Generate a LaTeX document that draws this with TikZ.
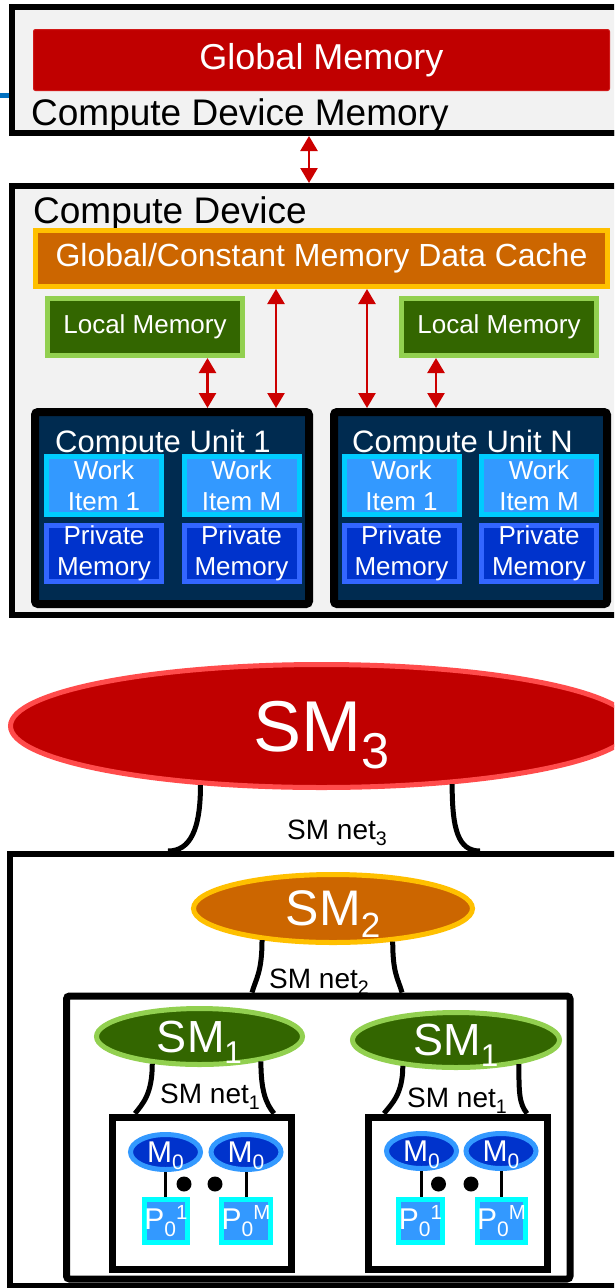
\documentclass[tikz,border=0pt]{standalone}
\usepackage{fontspec}
\setmainfont{Liberation Sans}
\usepackage{graphicx}
\usetikzlibrary{arrows.meta,shapes.geometric}

\definecolor{panelgray}{HTML}{F2F2F2}
\definecolor{gmred}{HTML}{C00000}
\definecolor{gmedge}{HTML}{D01818}
\definecolor{linkred}{HTML}{CC0000}
\definecolor{cacheorange}{HTML}{CC6600}
\definecolor{cacheedge}{HTML}{FFC000}
\definecolor{localgreen}{HTML}{336600}
\definecolor{localedge}{HTML}{92D050}
\definecolor{cunavy}{HTML}{002B50}
\definecolor{itemblue}{HTML}{3399FF}
\definecolor{itemedge}{HTML}{00CCFF}
\definecolor{privblue}{HTML}{0033CC}
\definecolor{privedge}{HTML}{3366FF}
\definecolor{smthreeedge}{HTML}{FF4B4B}
\definecolor{pcyan}{HTML}{00FFFF}
\definecolor{sidebar}{HTML}{0070C0}

\newcommand{\fsz}[1]{\fontsize{#1}{#1}\selectfont}
\newcommand{\lowsub}[1]{\raisebox{-.24em}{\scalebox{.7}{#1}}}
\newcommand{\highsup}[1]{\raisebox{.34em}{\scalebox{.68}{#1}}}

\tikzset{
  frame/.style={draw=black, line width=6pt, inner sep=0pt},
  memlink/.style={draw=linkred, line width=2.5pt, arrows={Triangle[width=17pt,length=15pt]-Triangle[width=17pt,length=15pt]}},
  membox/.style={rectangle, line width=5pt, inner sep=0pt, text=white, align=center},
  item/.style={membox, fill=itemblue, draw=itemedge, minimum width=115pt, minimum height=58pt, font=\fontsize{26}{31}\selectfont},
  private/.style={membox, fill=privblue, draw=privedge, minimum width=115pt, minimum height=56pt, font=\fontsize{26}{31}\selectfont},
  cutitle/.style={anchor=base west, inner sep=0pt, text=white, font=\fsz{31}},
  smnode/.style={ellipse, line width=5pt, inner sep=0pt, text=white, text depth=0pt},
  smnet/.style={draw=black, line width=5pt},
  netlabel/.style={anchor=base west, inner sep=0pt, font=\fsz{28}},
  mnode/.style={smnode, fill=privblue, draw=itemblue, minimum width=70pt, minimum height=35pt, font=\fsz{30}},
  pnode/.style={membox, fill=itemblue, draw=pcyan, minimum width=43pt, minimum height=43pt, font=\fsz{30}},
}

\begin{document}
\begin{tikzpicture}[x=1pt, y=-1pt]
  %%%%% START %%%%%
  \useasboundingbox (0,0) rectangle (614,1288);
  \clip (0,0) rectangle (614,1288);
  \fill[white] (0,0) rectangle (614,1288);

  % device memory
  \draw[line width=5pt, sidebar] (0,95) -- (10,95);
  \node[frame, fill=panelgray, minimum width=638pt, minimum height=126pt] (devmem) at (331,70) {};
  \node[membox, rounded corners=2pt, fill=gmred, draw=gmedge, line width=1pt, minimum width=576pt, minimum height=61pt, font=\fsz{36}] (gm) at (321.5,60) {Global Memory};
  \node[anchor=base west, inner sep=0pt, font=\fsz{37}] (devmemlabel) at (31,125) {Compute Device Memory};
  \draw[line width=6pt] ([yshift=3pt]devmem.south west) -- ([yshift=3pt]devmem.south east);

  % device
  \node[frame, fill=panelgray, minimum width=638pt, minimum height=429pt] (dev) at (331,400.5) {};
  \node[anchor=base west, inner sep=0pt, font=\fsz{37}] (devlabel) at (33,223) {Compute Device};
  \draw[memlink] ([xshift=-22pt]devmem.south) -- ([xshift=-22pt]dev.north);

  \node[membox, fill=cacheorange, draw=cacheedge, minimum width=572pt, minimum height=56pt, font=\fsz{32}] (cache) at (321.5,258.5) {Global/Constant Memory Data Cache};
  \node[membox, fill=localgreen, draw=localedge, minimum width=195pt, minimum height=57pt, font=\fsz{26}] (lm1) at (145,327) {Local Memory};
  \node[membox, fill=localgreen, draw=localedge, minimum width=195pt, minimum height=57pt, font=\fsz{26}] (lmN) at (499,327) {Local Memory};

  % compute units
  \node[frame, line width=8pt, rounded corners=3pt, fill=cunavy, minimum width=274pt, minimum height=192pt] (cu1) at (172,508) {};
  \node[frame, line width=8pt, rounded corners=3pt, fill=cunavy, minimum width=273pt, minimum height=192pt] (cuN) at (470.5,508) {};
  \node[cutitle] (cu1label) at (55,452) {Compute Unit 1};
  \node[cutitle] (cuNlabel) at (352,452) {Compute Unit N};

  \node[item] (wi11) at (104,485.5) {Work\\Item 1};
  \node[item] (wi1M) at (241.5,485.5) {Work\\Item M};
  \node[item] (wiN1) at (401.5,485.5) {Work\\Item 1};
  \node[item] (wiNM) at (539,485.5) {Work\\Item M};
  \node[private] (pm11) at (104,553.5) {Private\\Memory};
  \node[private] (pm1M) at (241.5,553.5) {Private\\Memory};
  \node[private] (pmN1) at (401.5,553.5) {Private\\Memory};
  \node[private] (pmNM) at (539,553.5) {Private\\Memory};

  \draw[memlink] ([xshift=62.5pt]lm1.south) -- ([xshift=62.5pt]lm1.south |- cu1.north);
  \draw[memlink] ([xshift=-45.5pt]cache.south) -- ([xshift=-45.5pt]cache.south |- cu1.north);
  \draw[memlink] ([xshift=45.5pt]cache.south) -- ([xshift=45.5pt]cache.south |- cuN.north);
  \draw[memlink] ([xshift=-63pt]lmN.south) -- ([xshift=-63pt]lmN.south |- cuN.north);

  % shared memory levels
  \node[frame, minimum width=640pt, minimum height=431.5pt] (lvl2) at (330,1069.75) {};
  \node[smnode, fill=gmred, draw=smthreeedge, minimum width=622pt, minimum height=123pt, font=\fsz{72}] (sm3) at (321.5,726) {SM\lowsub{3}};
  \draw[smnet] (sm3.206) .. controls +(0,45) and +(22,0) .. ([xshift=161pt]lvl2.north west);
  \draw[smnet] (sm3.-24) .. controls +(0,45) and +(-22,0) .. ([xshift=473pt]lvl2.north west);
  \node[netlabel] (net3) at (287,839) {SM net\lowsub{3}};

  \node[smnode, fill=cacheorange, draw=cacheedge, minimum width=279pt, minimum height=68pt, font=\fsz{50}] (sm2) at (333,908.5) {SM\lowsub{2}};
  \node[netlabel] (net2) at (269,988) {SM net\lowsub{2}};
  \node[frame, line width=7pt, rounded corners=3pt, minimum width=503.5pt, minimum height=283pt] (lvl1) at (318.25,1137.5) {};
  \draw[smnet] (sm2.204) .. controls +(0,32) and +(4,-14) .. ([xshift=189pt]lvl1.north west);
  \draw[smnet] (sm2.-29) .. controls +(0,32) and +(-4,-14) .. ([xshift=339pt]lvl1.north west);

  \node[smnode, fill=localgreen, draw=localedge, minimum width=206pt, minimum height=56pt, font=\fsz{45}] (sm1a) at (199.5,1036.5) {SM\lowsub{1}};
  \node[smnode, fill=localgreen, draw=localedge, minimum width=207pt, minimum height=55pt, font=\fsz{45}] (sm1b) at (456,1040) {SM\lowsub{1}};
  \node[netlabel] (net1a) at (160,1103) {SM net\lowsub{1}};
  \node[netlabel] (net1b) at (407,1107) {SM net\lowsub{1}};
  \node[frame, line width=7pt, minimum width=178.5pt, minimum height=152pt] (lvl0a) at (201.75,1193) {};
  \node[frame, line width=7pt, minimum width=179pt, minimum height=152pt] (lvl0b) at (457.5,1193) {};
  \draw[smnet] (sm1a.210) .. controls +(0,30) and +(8,-10) .. ([xshift=26pt]lvl0a.north west);
  \draw[smnet] (sm1a.-22) .. controls +(0,30) and +(-8,-10) .. ([xshift=165pt]lvl0a.north west);
  \draw[smnet] (sm1b.206) .. controls +(0,28) and +(8,-10) .. ([xshift=19.5pt]lvl0b.north west);
  \draw[smnet] (sm1b.-21) .. controls +(0,28) and +(-8,-10) .. ([xshift=162.5pt]lvl0b.north west);

  % processors with their memories
  \node[mnode] (m0a) at (165.5,1152) {M\lowsub{0}};
  \node[mnode] (m0b) at (246,1152) {M\lowsub{0}};
  \node[mnode] (m0c) at (421.5,1151) {M\lowsub{0}};
  \node[mnode] (m0d) at (501,1151) {M\lowsub{0}};
  \node[pnode] (p1a) at (166,1221) {P\lowsub{0}\highsup{1}};
  \node[pnode] (pMa) at (246,1221) {P\lowsub{0}\highsup{M}};
  \node[pnode] (p1b) at (420.5,1221) {P\lowsub{0}\highsup{1}};
  \node[pnode] (pMb) at (501.5,1221) {P\lowsub{0}\highsup{M}};
  \draw[line width=3pt] (m0a.south) -- (m0a.south |- p1a.north);
  \draw[line width=3pt] (m0b.south) -- (m0b.south |- pMa.north);
  \draw[line width=3pt] (m0c.south) -- (m0c.south |- p1b.north);
  \draw[line width=3pt] (m0d.south) -- (m0d.south |- pMb.north);

  \fill (184,1184) circle (7.5pt);
  \fill (215,1184) circle (7.5pt);
  \fill (438.5,1184) circle (7.5pt);
  \fill (471,1184) circle (7.5pt);
  %%%%% END %%%%%
\end{tikzpicture}
\end{document}
